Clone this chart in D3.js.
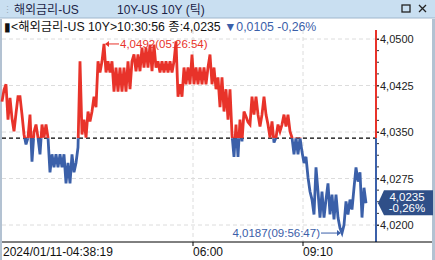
<!DOCTYPE html>
<html>
<head>
<meta charset="utf-8">
<script src="https://cdn.jsdelivr.net/npm/d3@7"></script>
<style>
  body { margin: 0; background: #fff; }
  svg { display: block; font-family: "Liberation Sans", "Noto Sans CJK KR", sans-serif; }
</style>
</head>
<body>
<svg id="chart" width="435" height="260"></svg>
<script>
// tick values, one every ~2px of screen
const values = [
  4.0399, 4.0418, 4.0427, 4.0370, 4.0405, 4.0372, 4.0351, 4.0380, 4.0407, 4.0407,
  4.0378, 4.0346, 4.0330, 4.0341, 4.0378, 4.0302, 4.0350, 4.0362, 4.0341, 4.0314,
  4.0362, 4.0341, 4.0362, 4.0341, 4.0285, 4.0314, 4.0293, 4.0314, 4.0293, 4.0314,
  4.0293, 4.0314, 4.0267, 4.0300, 4.0267, 4.0314, 4.0285, 4.0300, 4.0325, 4.0464,
  4.0346, 4.0370, 4.0341, 4.0383, 4.0367, 4.0383, 4.0407, 4.0390, 4.0464, 4.0446,
  4.0464, 4.0492, 4.0446, 4.0464, 4.0446, 4.0464, 4.0415, 4.0454, 4.0415, 4.0454,
  4.0415, 4.0454, 4.0415, 4.0464, 4.0419, 4.0464, 4.0475, 4.0448, 4.0475, 4.0448,
  4.0486, 4.0454, 4.0486, 4.0454, 4.0491, 4.0448, 4.0491, 4.0454, 4.0464, 4.0446,
  4.0464, 4.0446, 4.0464, 4.0446, 4.0464, 4.0446, 4.0464, 4.0496, 4.0407, 4.0427,
  4.0407, 4.0454, 4.0427, 4.0454, 4.0427, 4.0475, 4.0427, 4.0454, 4.0427, 4.0454,
  4.0427, 4.0454, 4.0427, 4.0454, 4.0475, 4.0427, 4.0454, 4.0419, 4.0438, 4.0390,
  4.0438, 4.0383, 4.0419, 4.0370, 4.0419, 4.0346, 4.0310, 4.0362, 4.0310, 4.0370,
  4.0335, 4.0383, 4.0375, 4.0366, 4.0362, 4.0407, 4.0378, 4.0407, 4.0378, 4.0359,
  4.0378, 4.0407, 4.0378, 4.0362, 4.0341, 4.0367, 4.0333, 4.0341, 4.0362, 4.0351,
  4.0362, 4.0378, 4.0359, 4.0378, 4.0351, 4.0341, 4.0314, 4.0341, 4.0314, 4.0341,
  4.0318, 4.0300, 4.0310, 4.0277, 4.0254, 4.0241, 4.0217, 4.0293, 4.0254, 4.0212,
  4.0254, 4.0212, 4.0241, 4.0267, 4.0217, 4.0249, 4.0209, 4.0249, 4.0212, 4.0195,
  4.0187, 4.0200, 4.0238, 4.0217, 4.0241, 4.0225, 4.0260, 4.0293, 4.0270, 4.0285,
  4.0212, 4.0260, 4.0235
];
const yTicks = [4.0500, 4.0425, 4.0350, 4.0275, 4.0200];
const xTicks = [95.5, 150.5];
const xTickLabels = ['06:00', '09:10'];
const startLabel = '2024/01/11-04:38:19';
const prevClose = 4.0340;
const lastValue = 4.0235;
const maxPoint = { i: 51, v: 4.0492, label: '4,0492(05:26:54)' };
const minPoint = { i: 170, v: 4.0187, label: '4,0187(09:56:47)' };

const RED = '#e8332a', BLUE = '#3b60a9';
const comma = v => d3.format('.4f')(v).replace('.', ',');

const svg = d3.select('#chart');
const pLeft = 2, pRight = 376, pTop = 30, pBottom = 242;

const x = d3.scaleLinear().domain([0, values.length - 1]).range([2, 366]);
const y = d3.scaleLinear().domain([4.0200, 4.0500]).range([225, 39]);

// title bar
svg.append('rect').attr('x', 0).attr('y', 0).attr('width', 435).attr('height', 18).attr('fill', '#c9dff1');
svg.append('line').attr('x1', 0).attr('x2', 435).attr('y1', 18).attr('y2', 18).attr('stroke', '#9fb6cc');
svg.append('text').attr('x', 3).attr('y', 13).attr('font-size', 9).attr('fill', '#9ab').text('⋮');
svg.append('text').attr('x', 14).attr('y', 13.5).attr('font-size', 12).attr('fill', '#1c2447').text('해외금리-US');
svg.append('text').attr('x', 117).attr('y', 13.5).attr('font-size', 12).attr('fill', '#1c2447').text('10Y-US 10Y (틱)');
svg.append('rect').attr('x', 402).attr('y', 5).attr('width', 8).attr('height', 7).attr('fill', 'none').attr('stroke', '#222').attr('stroke-width', 1.3);
svg.append('path').attr('d', 'M419,5L426,12M426,5L419,12').attr('stroke', '#222').attr('stroke-width', 1.3);

// side strips
svg.append('rect').attr('x', 0).attr('y', 19).attr('width', 2).attr('height', 241).attr('fill', '#b3c2d2');
svg.append('rect').attr('x', 432).attr('y', 19).attr('width', 3).attr('height', 241).attr('fill', '#b3c2d2');

// header line
const hdr = svg.append('text').attr('x', 4).attr('y', 31).attr('font-size', 12.3);
hdr.append('tspan').attr('fill', '#111').text('▮<해외금리-US 10Y>10:30:56 종:4,0235 ');
hdr.append('tspan').attr('fill', BLUE).text('▼0,0105  -0,26%');

// grid
const grid = svg.append('g').attr('stroke', '#dcdcdc').attr('stroke-dasharray', '4,3');
grid.selectAll('.h').data(yTicks).join('line')
  .attr('x1', pLeft).attr('x2', pRight).attr('y1', d => y(d)).attr('y2', d => y(d));
grid.selectAll('.v').data(xTicks).join('line')
  .attr('x1', d => x(d)).attr('x2', d => x(d)).attr('y1', pTop).attr('y2', pBottom);

// previous close
svg.append('line').attr('x1', pLeft).attr('x2', pRight).attr('y1', y(prevClose)).attr('y2', y(prevClose))
  .attr('stroke', '#000').attr('stroke-dasharray', '4,3').attr('stroke-width', 1.2);

// clip regions above/below previous close
const defs = svg.append('defs');
defs.append('clipPath').attr('id', 'above').append('rect')
  .attr('x', 0).attr('y', 0).attr('width', 435).attr('height', y(prevClose));
defs.append('clipPath').attr('id', 'below').append('rect')
  .attr('x', 0).attr('y', y(prevClose)).attr('width', 435).attr('height', 260);

const line = d3.line().x((d, i) => x(i)).y(d => y(d));
[['above', RED], ['below', BLUE]].forEach(([id, c]) => {
  svg.append('path').datum(values).attr('clip-path', `url(#${id})`)
    .attr('d', line).attr('fill', 'none').attr('stroke', c).attr('stroke-width', 2.8)
    .attr('stroke-linejoin', 'miter');
});

// right axis
const yAxis = d3.axisRight(y).tickValues(yTicks).tickSize(3).tickFormat(comma);
const ax = svg.append('g').attr('transform', `translate(${pRight},0)`).call(yAxis);
ax.select('.domain').remove();
ax.selectAll('text').attr('font-size', 11).attr('fill', '#222').attr('font-family', '"Liberation Sans", sans-serif').attr('x', 4);
ax.selectAll('line').attr('stroke', '#333');
const minor = d3.range(4.0200, 4.0500, 0.0075 / 4);
svg.append('g').selectAll('line').data(minor).join('line')
  .attr('x1', pRight).attr('x2', pRight + 3).attr('y1', d => y(d)).attr('y2', d => y(d)).attr('stroke', '#333');
svg.append('line').attr('x1', pRight).attr('x2', pRight).attr('y1', pTop).attr('y2', y(prevClose))
  .attr('stroke', RED).attr('stroke-width', 2);
svg.append('line').attr('x1', pRight).attr('x2', pRight).attr('y1', y(prevClose)).attr('y2', pBottom)
  .attr('stroke', BLUE).attr('stroke-width', 2);

// bottom axis
svg.append('line').attr('x1', pLeft).attr('x2', 432).attr('y1', pBottom).attr('y2', pBottom).attr('stroke', '#000');
svg.selectAll('.xt').data(xTicks).join('line')
  .attr('x1', d => x(d)).attr('x2', d => x(d)).attr('y1', pBottom).attr('y2', pBottom + 4).attr('stroke', '#000');
svg.selectAll('.xl').data(xTicks).join('text')
  .attr('x', d => x(d)).attr('y', 256).attr('font-size', 12).attr('fill', '#111')
  .text((d, i) => xTickLabels[i]);
svg.append('text').attr('x', 3).attr('y', 256).attr('font-size', 12).attr('fill', '#111').text(startLabel);

// max annotation
const mx = x(maxPoint.i), my = y(maxPoint.v);
svg.append('line').attr('x1', mx + 2).attr('x2', mx + 15).attr('y1', my).attr('y2', my).attr('stroke', RED);
svg.append('path').attr('d', `M${mx + 1},${my}l4,-3v6z`).attr('fill', RED);
svg.append('text').attr('x', mx + 16).attr('y', my + 4).attr('font-size', 11.5).attr('fill', RED).text(maxPoint.label);

// min annotation
const nx = x(minPoint.i), ny = y(minPoint.v);
svg.append('line').attr('x1', nx - 21).attr('x2', nx - 2).attr('y1', ny).attr('y2', ny).attr('stroke', BLUE);
svg.append('path').attr('d', `M${nx - 1},${ny}l-4,-3v6z`).attr('fill', BLUE);
svg.append('text').attr('x', nx - 22).attr('y', ny + 4).attr('text-anchor', 'end')
  .attr('font-size', 11.5).attr('fill', BLUE).text(minPoint.label);

// current value tag
const cy = y(lastValue);
svg.append('path').attr('d', `M378,${cy}L384,${cy - 13}H433V${cy + 12}H384Z`).attr('fill', '#2f4f88');
svg.append('text').attr('x', 407).attr('y', cy - 2).attr('text-anchor', 'middle').attr('font-size', 11.5)
  .attr('fill', '#fff').text(comma(lastValue));
svg.append('text').attr('x', 407).attr('y', cy + 9).attr('text-anchor', 'middle').attr('font-size', 11.5)
  .attr('fill', '#fff').text('-0,26%');
</script>
</body>
</html>
